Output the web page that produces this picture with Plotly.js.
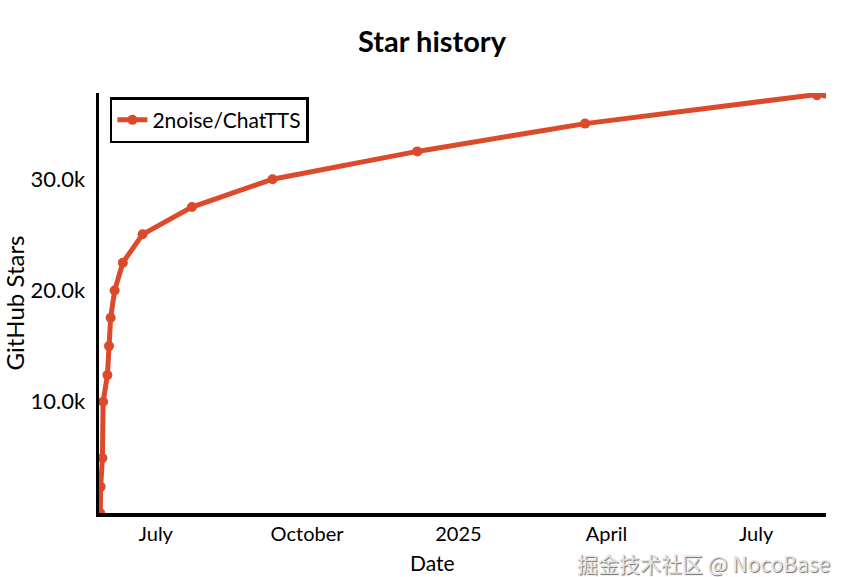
<!DOCTYPE html>
<html>
<head>
<meta charset="utf-8">
<script src="https://cdn.plot.ly/plotly-3.0.1.min.js"></script>
<style>html,body{margin:0;padding:0;background:#fff;}#chart{width:851px;height:577px;}</style>
</head>
<body>
<div id="chart"></div>
<script>
// Data
const repoName = "2noise/ChatTTS";
const dates = [
  "2024-05-28T06:00", "2024-05-28T12:00", "2024-05-29T14:00", "2024-05-30T00:00",
  "2024-06-01T15:00", "2024-06-02T14:00", "2024-06-03T14:00", "2024-06-06T00:00",
  "2024-06-11T00:00", "2024-06-23T00:00", "2024-07-23T00:00", "2024-09-10T00:00",
  "2024-12-07T00:00", "2025-03-19T00:00", "2025-08-07T00:00", "2025-08-11T12:00"
];
const stars = [
  0, 2350, 4950, 10000,
  12400, 15000, 17550, 20000,
  22500, 25050, 27500, 30000,
  32500, 35000, 37550, 37700
];
const xTickVals = ["2024-07-01", "2024-10-01", "2025-01-01", "2025-04-01", "2025-07-01"];
const xTickText = ["July", "October", "2025", "April", "July"];
const yTickVals = [10000, 20000, 30000];
const yTickText = ["10.0k", "20.0k", "30.0k"];

const font = "Lato, 'Noto Sans', sans-serif";
const red = "#dd4a2b";

const trace = {
  type: "scatter",
  mode: "lines+markers",
  name: repoName,
  x: dates,
  y: stars,
  line: {color: red, width: 5},
  marker: {color: red, size: 10, symbol: "circle"}
};

const layout = {
  width: 851,
  height: 577,
  paper_bgcolor: "#ffffff",
  plot_bgcolor: "#ffffff",
  margin: {l: 99, r: 25, t: 93, b: 64},
  font: {family: font, color: "#000", size: 20},
  title: {
    text: "<b>Star history</b>",
    font: {family: font, size: 29, color: "#000"},
    x: 432 / 851, xanchor: "center",
    y: 1 - 42 / 577, yanchor: "middle"
  },
  xaxis: {
    type: "date",
    range: ["2024-05-27T12:00", "2025-08-12T12:00"],
    tickvals: xTickVals,
    ticktext: xTickText,
    ticks: "",
    showgrid: false,
    zeroline: false,
    showline: true,
    linecolor: "#000",
    linewidth: 3.5,
    tickfont: {family: font, size: 20, color: "#000"},
    ticklabelstandoff: 0
  },
  yaxis: {
    range: [0, 37750],
    tickvals: yTickVals,
    ticktext: yTickText,
    ticks: "",
    showgrid: false,
    zeroline: false,
    showline: true,
    linecolor: "#000",
    linewidth: 3.5,
    tickfont: {family: font, size: 22, color: "#000"},
    ticklabelstandoff: 6,
    title: {text: "GitHub Stars", font: {family: font, size: 24, color: "#000"}, standoff: 4}
  },
  legend: {
    x: 0.015, xanchor: "left",
    y: 0.99, yanchor: "top",
    bgcolor: "#ffffff",
    bordercolor: "#000",
    borderwidth: 2.5,
    font: {family: font, size: 21, color: "#000"},
    itemwidth: 30
  },
  showlegend: true,
  annotations: [
    {
      text: "Date",
      xref: "paper", yref: "paper",
      x: (432 - 99) / 727, y: (513 - 562) / 420,
      xanchor: "center", yanchor: "middle",
      showarrow: false,
      font: {family: font, size: 21, color: "#000"}
    },
    {
      text: "掘金技术社区 @ NocoBase",
      xref: "paper", yref: "paper",
      x: (832 - 99) / 727, y: (513 - 563) / 420,
      xanchor: "right", yanchor: "middle",
      showarrow: false,
      font: {family: "'Noto Sans CJK SC', 'Noto Sans', sans-serif", size: 21, color: "#e4e4e4",
             shadow: "1px 1px 1px #6a6a6a"}
    }
  ]
};

Plotly.newPlot("chart", [trace], layout, {displayModeBar: false, staticPlot: true});
</script>
</body>
</html>
